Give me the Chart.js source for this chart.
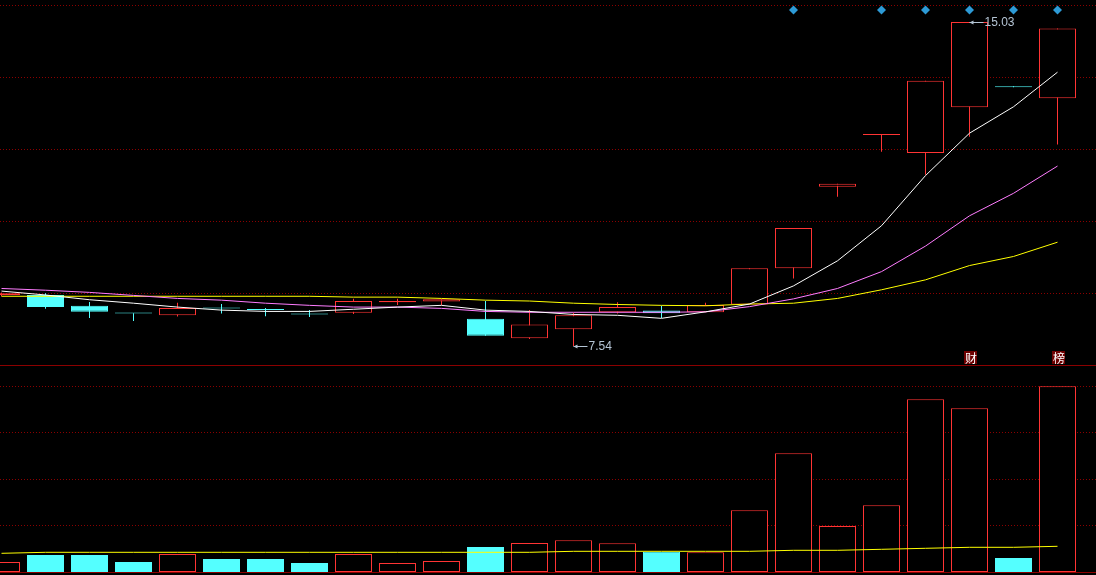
<!DOCTYPE html>
<html>
<head>
<meta charset="utf-8">
<script src="https://cdn.jsdelivr.net/npm/chart.js@4.4.0/dist/chart.umd.min.js"></script>
<style>
   html, body { margin: 0; padding: 0; background: #000; }
   canvas { display: block; }
</style>
</head>
<body>
<canvas id="chart" width="1096" height="575"></canvas>
<script>
'use strict';

//Daily prices, oldest first
const opens  = [8.72, 8.72, 8.47, 8.30, 8.25, 8.42, 8.38, 8.28, 8.31, 8.55, 8.57, 8.17, 7.72,
   7.93, 8.32, 8.36, 8.32, 8.50, 9.34, 11.22, 12.42, 12.00, 13.06, 13.53, 13.27];
const highs  = [8.78, 8.76, 8.56, 8.30, 8.54, 8.51, 8.42, 8.37, 8.63, 8.63, 8.62, 8.58, 8.37,
   8.31, 8.55, 8.47, 8.54, 9.34, 10.27, 11.29, 12.43, 13.67, 15.03, 13.53, 14.88];
const lows   = [8.69, 8.40, 8.19, 8.12, 8.22, 8.29, 8.23, 8.21, 8.28, 8.49, 8.49, 7.78, 7.70,
   7.54, 8.29, 8.19, 8.32, 8.50, 9.10, 10.99, 12.03, 11.50, 12.38, 13.52, 12.20];
const closes = [8.76, 8.44, 8.33, 8.29, 8.42, 8.41, 8.37, 8.27, 8.58, 8.58, 8.62, 7.78, 8.04,
   8.25, 8.44, 8.30, 8.49, 9.34, 10.27, 11.29, 12.43, 13.67, 15.03, 13.52, 14.88];

//Moving averages as drawn on the chart
const ma5  = [8.81, 8.72, 8.61, 8.53, 8.44, 8.37, 8.34, 8.34, 8.39, 8.44, 8.48, 8.37, 8.34,
   8.27, 8.25, 8.18, 8.33, 8.51, 8.93, 9.51, 10.32, 11.48, 12.46, 13.07, 13.87];
const ma10 = [8.87, 8.83, 8.78, 8.71, 8.64, 8.60, 8.53, 8.48, 8.44, 8.44, 8.41, 8.34, 8.32,
   8.32, 8.32, 8.32, 8.33, 8.45, 8.63, 8.87, 9.26, 9.85, 10.55, 11.07, 11.70];
const ma20 = [8.69, 8.69, 8.69, 8.69, 8.69, 8.69, 8.69, 8.69, 8.67, 8.67, 8.64, 8.60, 8.58,
   8.53, 8.50, 8.48, 8.47, 8.51, 8.53, 8.64, 8.84, 9.07, 9.40, 9.61, 9.94];

//Volume (万手) and its average
const volumes = [1.00, 1.70, 1.70, 1.00, 1.80, 1.30, 1.30, 0.90, 1.80, 0.90, 1.10, 2.50, 2.90,
   3.17, 2.87, 2.03, 1.97, 6.17, 11.87, 4.60, 6.67, 17.27, 16.37, 1.40, 18.57];
const volMa = [1.87, 1.97, 1.97, 1.97, 1.97, 1.97, 1.97, 1.97, 1.97, 1.97, 1.97, 1.97, 1.97,
   2.07, 2.07, 2.07, 2.07, 2.07, 2.17, 2.17, 2.27, 2.37, 2.47, 2.47, 2.57];

//Signal markers, event tags and grid levels
const signalDays = [18, 20, 21, 22, 23, 24];
const eventTags = [{day: 22, text: '财'}, {day: 24, text: '榜'}];
const priceGrid = [15.42, 13.75, 12.09, 10.42, 8.76];
const volumeGrid = [18.57, 13.97, 9.27, 4.67];

//Axis ranges (both panels share the whole canvas height)
const X_MIN = -1.5 / 44;
const X_MAX = X_MIN + 1096 / 44;
const PRICE_MAX = 15.5386;
const PRICE_MIN = 2.2469;
const VOL_MIN = -0.3;
const VOL_MAX = 57.2;
const VOL_PANEL_TOP = 20.7;
const SIGNAL_LEVEL = 15.31;

const RED = '#ff3434';
const CYAN = '#54ffff';
const GRID = '#8b0000';
const LABEL = '#b4c4d4';

const days = closes.map((e, i) => i);
const isUp = i => closes[i] >= opens[i];
const points = arr => arr.map((v, i) => ({x: days[i], y: v}));

//Grid lines and panel borders
const panelPlugin = {
   id: 'panels',
   beforeDatasetsDraw(chart) {
      const {ctx, chartArea: area, scales: {y, yv}} = chart;
      const hLine = py => {
         const p = Math.round(py) + 0.5;
         ctx.beginPath();
         ctx.moveTo(area.left, p);
         ctx.lineTo(area.right, p);
         ctx.stroke();
      };
      ctx.save();
      ctx.strokeStyle = GRID;
      ctx.lineWidth = 1;
      ctx.setLineDash([1, 2]);
      priceGrid.forEach(v => hLine(y.getPixelForValue(v)));
      volumeGrid.forEach(v => hLine(yv.getPixelForValue(v)));
      ctx.setLineDash([]);
      hLine(yv.getPixelForValue(VOL_PANEL_TOP));
      hLine(yv.getPixelForValue(0));
      ctx.restore();
   }
};

//High / low marks and event tags
const labelPlugin = {
   id: 'labels',
   afterDatasetsDraw(chart) {
      const {ctx, scales: {x, y, yv}} = chart;
      const mark = (day, price) => {
         const px = x.getPixelForValue(day);
         const py = Math.round(y.getPixelForValue(price)) + 0.5;
         ctx.strokeStyle = LABEL;
         ctx.fillStyle = LABEL;
         ctx.beginPath();
         ctx.moveTo(px, py);
         ctx.lineTo(px + 14, py);
         ctx.stroke();
         ctx.beginPath();
         ctx.moveTo(px, py);
         ctx.lineTo(px + 4, py - 2);
         ctx.lineTo(px + 4, py + 2);
         ctx.fill();
         ctx.fillText(price.toFixed(2), px + 15, py);
      };
      ctx.save();
      ctx.lineWidth = 1;
      ctx.font = '12px "Liberation Sans", Arial, sans-serif';
      ctx.textBaseline = 'middle';
      const top = Math.max(...highs);
      const bottom = Math.min(...lows);
      mark(highs.indexOf(top), top);
      mark(lows.indexOf(bottom), bottom);

      const sepY = Math.round(yv.getPixelForValue(VOL_PANEL_TOP));
      ctx.font = '12px "Noto Sans CJK SC", sans-serif';
      ctx.textAlign = 'center';
      eventTags.forEach(e => {
         const px = Math.round(x.getPixelForValue(e.day));
         ctx.fillStyle = '#6e0000';
         ctx.fillRect(px - 6, sepY - 14, 13, 13);
         ctx.fillStyle = '#ffffff';
         ctx.fillText(e.text, px + 1, sepY - 7);
      });
      ctx.restore();
   }
};

const lineSet = (data, color, axis) => ({
   type: 'line',
   data: points(data),
   yAxisID: axis,
   borderColor: color,
   borderWidth: 1,
   pointRadius: 0,
   fill: false,
   tension: 0,
   order: 0
});

const chart = new Chart(document.getElementById('chart'), {
   type: 'bar',
   data: {
      datasets: [
         lineSet(ma5, '#ffffff', 'y'),
         lineSet(ma10, '#ff7cff', 'y'),
         lineSet(ma20, '#ffff00', 'y'),
         lineSet(volMa, '#ffff00', 'yv'),
         {
            type: 'line',
            data: signalDays.map(d => ({x: d, y: SIGNAL_LEVEL})),
            yAxisID: 'y',
            showLine: false,
            pointStyle: 'rectRot',
            pointRadius: 4.5,
            pointBorderWidth: 0,
            pointBackgroundColor: '#2d9ad6',
            order: 0
         },
         {
            //Candle bodies
            data: days.map(i => ({x: i, y: [opens[i], closes[i]]})),
            yAxisID: 'y',
            grouped: false,
            barThickness: 37,
            minBarLength: 1,
            inflateAmount: 0,
            borderWidth: 1,
            borderSkipped: false,
            borderColor: ctx => isUp(ctx.dataIndex) ? RED : CYAN,
            backgroundColor: ctx => isUp(ctx.dataIndex) ? '#000000' : CYAN,
            order: 1
         },
         {
            //Candle wicks
            data: days.map(i => ({x: i, y: [lows[i], highs[i]]})),
            yAxisID: 'y',
            grouped: false,
            barThickness: 1,
            minBarLength: 1,
            inflateAmount: 0,
            borderWidth: 0,
            backgroundColor: ctx => isUp(ctx.dataIndex) ? RED : CYAN,
            order: 2
         },
         {
            //Volume bars
            data: points(volumes),
            yAxisID: 'yv',
            grouped: false,
            barThickness: 37,
            inflateAmount: 0,
            borderWidth: 1,
            borderSkipped: false,
            borderColor: ctx => isUp(ctx.dataIndex) ? RED : CYAN,
            backgroundColor: ctx => isUp(ctx.dataIndex) ? '#000000' : CYAN,
            order: 1
         }
      ]
   },
   options: {
      responsive: false,
      animation: false,
      devicePixelRatio: 1,
      layout: {padding: 0, autoPadding: false},
      plugins: {legend: {display: false}, tooltip: {enabled: false}},
      scales: {
         x: {type: 'linear', min: X_MIN, max: X_MAX, offset: false, display: false},
         y: {type: 'linear', min: PRICE_MIN, max: PRICE_MAX, display: false},
         yv: {type: 'linear', min: VOL_MIN, max: VOL_MAX, display: false}
      }
   },
   plugins: [panelPlugin, labelPlugin]
});
</script>
</body>
</html>
